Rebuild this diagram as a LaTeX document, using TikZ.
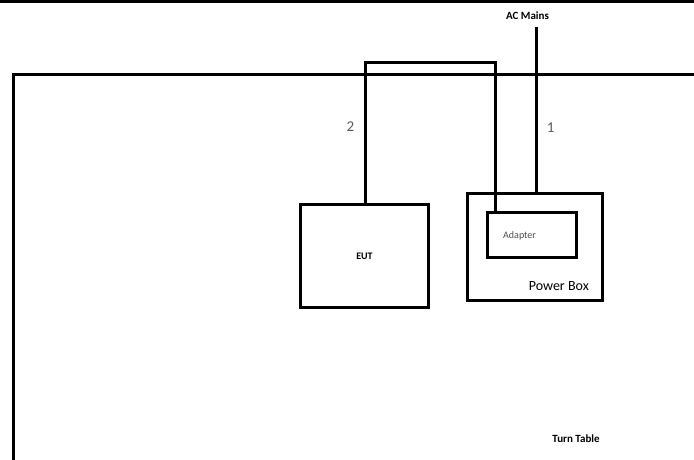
\documentclass[tikz,border=0pt]{standalone}
\usepackage{fontspec}
\setmainfont{Carlito}
\usetikzlibrary{positioning, calc}

\begin{document}
\begin{tikzpicture}[
    x=1pt, y=-1pt,
    % Styles
    unit/.style={rectangle, draw, line width=3pt, inner sep=0pt, font=\fontsize{10}{12}\selectfont\bfseries, align=center},
    cable/.style={line width=3pt},
    tag/.style={font=\fontsize{11}{13}\selectfont\bfseries, inner sep=1pt},
    num/.style={font=\fontsize{15}{17}\selectfont, text=black!65}
]
\useasboundingbox (0,0) rectangle (694,459);

% --- Top rule and turn table outline ---
\draw[line width=3pt] (0,1.5) -- (694,1.5);
\draw[cable] (13.5,470) -- (13.5,74) -- (700,74);
\node[tag, anchor=base] (turn_table) at (576,442) {Turn Table};

% --- Units on the table ---
\node[unit, minimum width=128pt, minimum height=103pt] (eut) at (364.5,256) {EUT};
\node[unit, minimum width=135pt, minimum height=107pt] (power_box) at (534.5,246.5) {};
\node[unit, minimum width=89pt, minimum height=45pt] (adapter) at (531.5,234.5) {};
\node[anchor=west, inner sep=0pt, font=\fontsize{10}{12}\selectfont, text=black!70] (adapter_txt) at (503,236) {Adapter};
\node[anchor=base east, inner sep=0pt, font=\fontsize{14}{16}\selectfont] (pbox_txt) at (589,290) {Power Box};

% --- Cables ---
\node[tag] (ac_mains) at (527.5,16) {AC Mains};
\coordinate (ac_top) at (536,27);
\draw[cable] (ac_top) -- node[num, pos=0.61, right=6pt] {1} (ac_top |- power_box.north);

\coordinate (loop_l) at (365,62);
\coordinate (loop_r) at (495,62);
\draw[cable] (loop_l |- eut.north) -- node[num, pos=0.54, left=6pt] {2} (loop_l) -- (loop_r) -- (loop_r |- adapter.north);

\end{tikzpicture}
\end{document}
